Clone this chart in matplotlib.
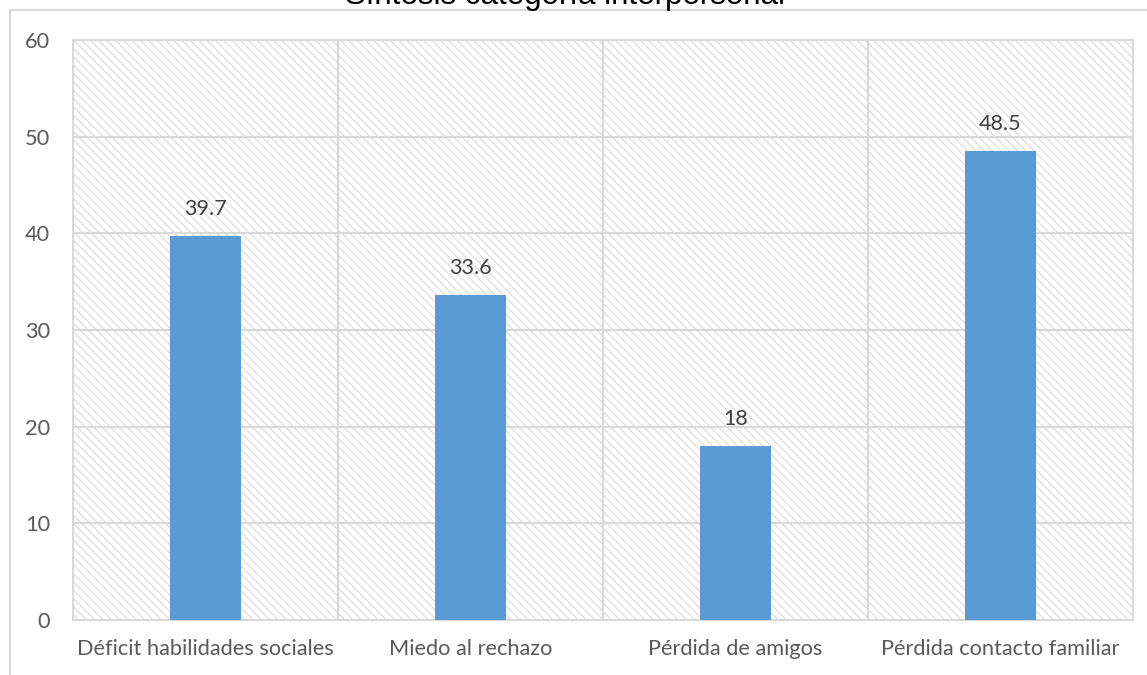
import matplotlib.pyplot as plt
from matplotlib.patches import Rectangle

# =========================
# DATA
# =========================
categorias = ["Déficit habilidades sociales", "Miedo al rechazo",
              "Pérdida de amigos", "Pérdida contacto familiar"]
valores = [39.7, 33.6, 18, 48.5]
etiquetas = ["39.7", "33.6", "18", "48.5"]
titulo = "Síntesis categoría interpersonal"

plt.rcParams['font.family'] = ['Lato', 'DejaVu Sans']
plt.rcParams['hatch.color'] = '#d0d0d0'
plt.rcParams['hatch.linewidth'] = 0.8

gris = '#d9d9d9'
texto = '#595959'

fig = plt.figure(figsize=(11.47, 6.75), dpi=100)
ax = fig.add_axes([73 / 1147, 1 - 620 / 675, 1060 / 1147, 580 / 675])

# fondo rayado del area de trazado
ax.add_patch(Rectangle((0, 0), 1, 1, transform=ax.transAxes, facecolor='white',
                       edgecolor=gris, hatch='\\\\\\\\', lw=0, zorder=0))

x = range(len(categorias))
ax.bar(x, valores, width=0.27, color='#5b9bd5', zorder=3)

for xi, v, t in zip(x, valores, etiquetas):
    ax.text(xi, v + 1.8, t, ha='center', va='bottom', fontsize=15.5, color='#404040')

ax.set_xlim(-0.5, len(categorias) - 0.5)
ax.set_ylim(0, 60)
ax.set_yticks(range(0, 61, 10))
ax.set_xticks(list(x))
ax.set_xticklabels(categorias)
ax.tick_params(axis='both', length=0, labelsize=15.7, labelcolor=texto)
ax.tick_params(axis='y', pad=16.5)
ax.tick_params(axis='x', pad=14)

# rejilla horizontal y separadores verticales
for y in range(10, 61, 10):
    ax.axhline(y, color=gris, lw=1.5, zorder=1)
for b in [0.5, 1.5, 2.5]:
    ax.axvline(b, color=gris, lw=1.5, zorder=1)

for s in ax.spines.values():
    s.set_color(gris)
    s.set_linewidth(1.5)

# marco del grafico (parcialmente fuera de la imagen)
fig.patches.append(Rectangle((10 / 1147, -0.2), 1.2, 1.2 - 10 / 675, transform=fig.transFigure,
                             fill=False, edgecolor=gris, lw=1.5, figure=fig))

# titulo recortado en el borde superior
fig.text(565 / 1147, 1 - 4 / 675, titulo, ha='center', va='baseline',
         fontsize=22.5, color='black', family=['Liberation Sans', 'DejaVu Sans'])

fig.savefig("out.png", dpi=100)
